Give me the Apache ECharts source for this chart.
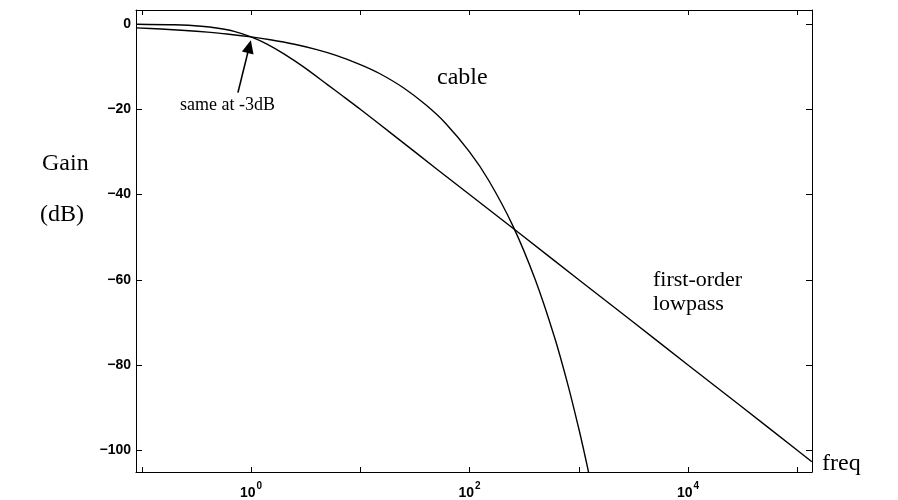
<!DOCTYPE html>
<html>
<head>
<meta charset="utf-8">
<script src="https://cdn.jsdelivr.net/npm/echarts@6/dist/echarts.min.js"></script>
<style>
html,body{margin:0;padding:0;background:#fff;}
#chart{width:898px;height:500px;}
</style>
</head>
<body>
<div id="chart"></div>
<script>
// Frequencies (linear units) and gains (dB)
const lowpassFreq = [0.089, 0.2, 0.35, 0.5, 0.7, 1, 1.4, 2, 3, 5, 7, 10, 20, 50, 100, 300, 1000, 3000, 10000, 30000, 100000, 136000];
const lowpassGain = [-0.03, -0.17, -0.5, -0.97, -1.7, -3.0, -4.7, -7.0, -10.0, -14.2, -17.0, -20.0, -26.0, -34.0, -40.0, -49.5, -60.0, -69.5, -80.0, -89.5, -100.0, -102.7];

const cableFreq = [0.089, 0.15, 0.25, 0.4, 0.6, 1, 1.5, 2.5, 4, 6, 10, 15, 25, 40, 60, 100, 150, 250, 400, 600, 800, 1000, 1100, 1200, 1240];
const cableGain = [-0.9, -1.16, -1.5, -1.9, -2.32, -3.0, -3.67, -4.74, -6.0, -7.35, -9.5, -11.6, -15.0, -19.0, -23.2, -30.0, -36.7, -47.4, -60.0, -73.5, -84.9, -94.9, -99.5, -103.9, -105.6];

const yTickValues = [0, -20, -40, -60, -80, -100];
const xTickExponents = [-1, 0, 1, 2, 3, 4, 5];
const xLabelExponents = [0, 2, 4];

const xMin = -1.053, xMax = 5.135;
const yMin = -105.1, yMax = 3.3;

const toPairs = (f, g) => f.map((v, i) => [Math.log10(v), g[i]]);

const sans = 'Liberation Sans, Arial, sans-serif';
const serif = 'Liberation Serif, Times New Roman, serif';

const chart = echarts.init(document.getElementById('chart'), null, { renderer: 'canvas' });

const axisLine = { show: true, onZero: false, lineStyle: { color: '#000', width: 1 } };

const option = {
  animation: false,
  backgroundColor: '#fff',
  grid: { left: 136, right: 86, top: 10, bottom: 26, containLabel: false },
  xAxis: [
    {
      type: 'value', min: xMin, max: xMax, position: 'bottom',
      axisLine: axisLine,
      splitLine: { show: false },
      axisTick: { show: true, inside: true, length: 5, customValues: xTickExponents, lineStyle: { color: '#000' } },
      axisLabel: {
        show: true, customValues: xLabelExponents, margin: 9,
        formatter: v => '{b|10}{s|' + v + '}',
        rich: {
          b: { fontFamily: sans, fontSize: 14, fontWeight: 'bold', color: '#000', verticalAlign: 'bottom' },
          s: { fontFamily: sans, fontSize: 10, fontWeight: 'bold', color: '#000', verticalAlign: 'top', padding: [0, 0, 9, 1] }
        }
      }
    },
    {
      type: 'value', min: xMin, max: xMax, position: 'top',
      axisLine: axisLine,
      splitLine: { show: false },
      axisTick: { show: true, inside: true, length: 5, customValues: xTickExponents, lineStyle: { color: '#000' } },
      axisLabel: { show: false }
    }
  ],
  yAxis: [
    {
      type: 'value', min: yMin, max: yMax, position: 'left',
      axisLine: axisLine,
      splitLine: { show: false },
      axisTick: { show: true, inside: true, length: 6, customValues: yTickValues, lineStyle: { color: '#000' } },
      axisLabel: {
        show: true, customValues: yTickValues, margin: 5,
        formatter: v => (v < 0 ? '\u2212' + (-v) : String(v)),
        fontFamily: sans, fontSize: 14, fontWeight: 'bold', color: '#000'
      }
    },
    {
      type: 'value', min: yMin, max: yMax, position: 'right',
      axisLine: axisLine,
      splitLine: { show: false },
      axisTick: { show: true, inside: true, length: 6, customValues: yTickValues, lineStyle: { color: '#000' } },
      axisLabel: { show: false }
    }
  ],
  series: [
    {
      name: 'first-order lowpass', type: 'line', xAxisIndex: 0, yAxisIndex: 0,
      data: toPairs(lowpassFreq, lowpassGain),
      showSymbol: false, smooth: 0.3, clip: true,
      lineStyle: { color: '#000', width: 1.4 },
      markLine: {
        silent: true, animation: false,
        symbol: ['none', 'triangle'], symbolSize: [12, 13],
        lineStyle: { color: '#000', width: 1.6, type: 'solid' },
        label: { show: false },
        data: [[{ coord: [-0.12, -16.1] }, { coord: [-0.016, -5.3] }]]
      }
    },
    {
      name: 'cable', type: 'line', xAxisIndex: 0, yAxisIndex: 0,
      data: toPairs(cableFreq, cableGain),
      showSymbol: false, smooth: 0.3, clip: true,
      lineStyle: { color: '#000', width: 1.4 }
    }
  ],
  graphic: [
    { type: 'text', left: 42, top: 152, style: { text: 'Gain', font: '24px ' + serif, fill: '#000' } },
    { type: 'text', left: 40, top: 203, style: { text: '(dB)', font: '24px ' + serif, fill: '#000' } },
    { type: 'text', left: 822, top: 452, style: { text: 'freq', font: '24px ' + serif, fill: '#000' } },
    { type: 'text', left: 437, top: 66, style: { text: 'cable', font: '24px ' + serif, fill: '#000' } },
    { type: 'text', left: 180, top: 96, style: { text: 'same at -3dB', font: '18px ' + serif, fill: '#000' } },
    { type: 'text', left: 653, top: 268, style: { text: 'first-order\nlowpass', font: '22px ' + serif, fill: '#000', lineHeight: 24 } }
  ]
};

chart.setOption(option);
</script>
</body>
</html>
